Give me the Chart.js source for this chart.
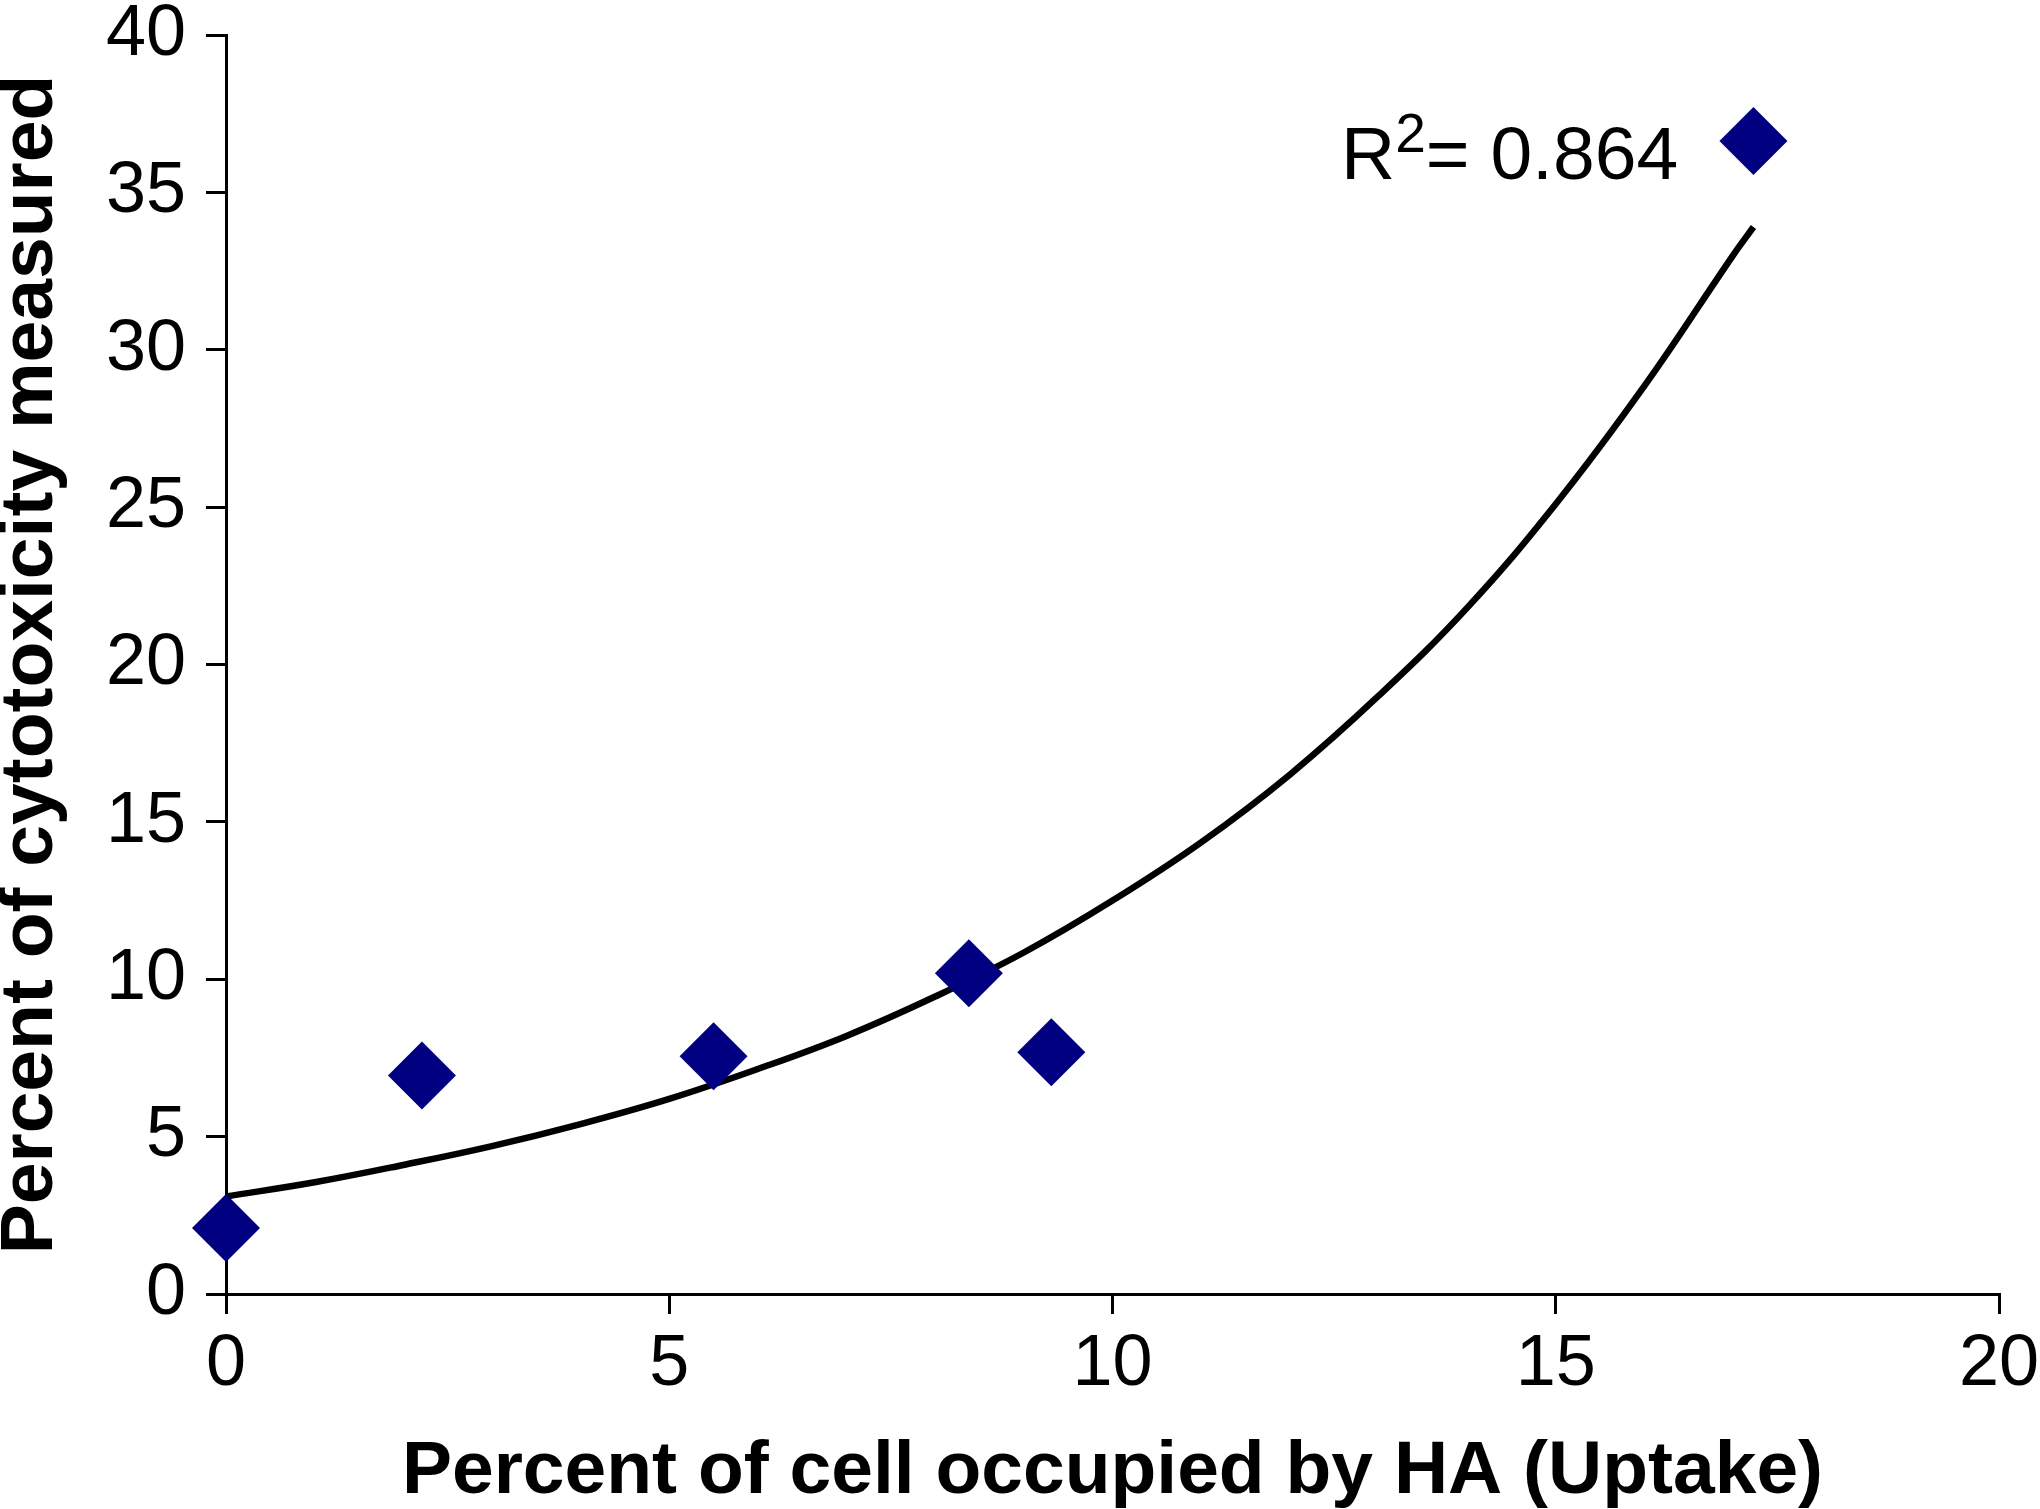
<!DOCTYPE html>
<html>
<head>
<meta charset="utf-8">
<script src="https://cdn.jsdelivr.net/npm/chart.js@4/dist/chart.umd.min.js"></script>
<style>
  html, body { margin: 0; padding: 0; background: #fff; }
  #wrap { width: 2040px; height: 1509px; }
</style>
</head>
<body>
<div id="wrap"><canvas id="jsUptakeCanvas" width="2040" height="1509"></canvas></div>
<script>
// measured points
const uptake = [0, 2.21, 5.5, 8.38, 9.31, 17.23];
const cytotoxicity = [2.1, 6.94, 7.55, 10.19, 7.68, 36.63];

// exponential trendline
const trendX = [0, 1, 2, 3, 4, 5, 6, 7, 8, 9, 10, 11, 12, 13, 14, 15, 16, 17, 17.23];
const trendY = [3.1, 3.55, 4.1, 4.7, 5.4, 6.2, 7.15, 8.2, 9.45, 10.85, 12.5, 14.35, 16.5, 19.0, 21.8, 25.1, 28.85, 33.0, 33.9];

const xTicks = [0, 5, 10, 15, 20];
const yTicks = [0, 5, 10, 15, 20, 25, 30, 35, 40];
const rSquared = "0.864";

const FONT = "'Liberation Sans', Arial, sans-serif";

// R² label drawn on the chart
const rSquaredLabel = {
  id: "rSquaredLabel",
  afterDatasetsDraw(chart) {
    const { ctx, scales } = chart;
    const right = scales.x.getPixelForValue(16.38);
    const base = scales.y.getPixelForValue(35.42);
    ctx.save();
    ctx.fillStyle = "#000";
    ctx.textBaseline = "alphabetic";
    ctx.textAlign = "left";
    ctx.font = "75px " + FONT;
    const valueText = "= " + rSquared;
    const valueW = ctx.measureText(valueText).width;
    const rW = ctx.measureText("R").width;
    ctx.font = "55px " + FONT;
    const supW = ctx.measureText("2").width;
    let x = right - valueW - supW - rW;
    ctx.font = "75px " + FONT;
    ctx.fillText("R", x, base);
    x += rW;
    ctx.font = "55px " + FONT;
    ctx.fillText("2", x, base - 27);
    x += supW;
    ctx.font = "75px " + FONT;
    ctx.fillText(valueText, x, base);
    ctx.restore();
  },
};

const uptakeChart = () => {
  const canvas = document.getElementById("jsUptakeCanvas").getContext("2d");

  new Chart(canvas, {
    type: "scatter",
    data: {
      datasets: [
        {
          label: "Trend",
          type: "line",
          data: trendX.map((x, i) => ({ x: x, y: trendY[i] })),
          borderColor: "#000",
          borderWidth: 6.5,
          pointRadius: 0,
          tension: 0.4,
          fill: false,
          order: 2,
        },
        {
          label: "Cytotoxicity",
          data: uptake.map((x, i) => ({ x: x, y: cytotoxicity[i] })),
          backgroundColor: "#000080",
          borderWidth: 0,
          pointStyle: "rectRot",
          pointRadius: 34,
          clip: false,
          order: 1,
        },
      ],
    },
    options: {
      responsive: false,
      animation: false,
      layout: {
        padding: { left: 0, top: 35, right: 41, bottom: 0 },
      },
      plugins: {
        legend: { display: false },
        tooltip: { enabled: false },
      },
      scales: {
        x: {
          type: "linear",
          min: 0,
          max: 20,
          afterBuildTicks: (scale) => {
            scale.ticks = xTicks.map((v) => ({ value: v }));
          },
          afterFit: (scale) => {
            scale.height = 215;
            scale.paddingLeft = 0;
            scale.paddingRight = 0;
          },
          border: { color: "#000", width: 3 },
          grid: {
            drawOnChartArea: false,
            drawTicks: true,
            tickLength: 20,
            color: "#000",
            lineWidth: 3,
          },
          ticks: {
            color: "#000",
            padding: 8,
            font: { family: FONT, size: 72 },
            maxRotation: 0,
          },
          title: {
            display: true,
            text: "Percent of cell occupied by HA (Uptake)",
            color: "#000",
            font: { family: FONT, size: 75, weight: "bold" },
            padding: { top: 0, bottom: -8 },
          },
        },
        y: {
          type: "linear",
          min: 0,
          max: 40,
          afterBuildTicks: (scale) => {
            scale.ticks = yTicks.map((v) => ({ value: v }));
          },
          afterFit: (scale) => {
            scale.width = 226;
            scale.paddingTop = 0;
            scale.paddingBottom = 0;
          },
          border: { color: "#000", width: 3 },
          grid: {
            drawOnChartArea: false,
            drawTicks: true,
            tickLength: 20,
            color: "#000",
            lineWidth: 3,
          },
          ticks: {
            color: "#000",
            padding: 20,
            font: { family: FONT, size: 72 },
          },
          title: {
            display: true,
            text: "Percent of cytotoxicity measured",
            color: "#000",
            font: { family: FONT, size: 75, weight: "bold" },
            padding: { top: -14, bottom: 0 },
          },
        },
      },
    },
    plugins: [rSquaredLabel],
  });
};

window.addEventListener("DOMContentLoaded", () => {
  uptakeChart();
});
</script>
</body>
</html>
